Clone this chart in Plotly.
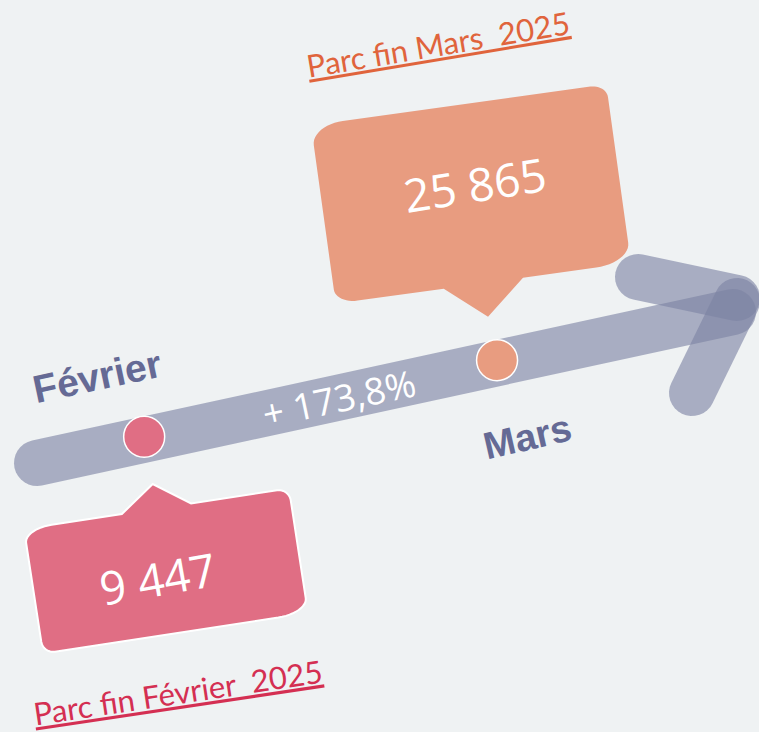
import math
import plotly.graph_objects as go

# ---------------- data ----------------
months = ["Février", "Mars"]
parc = [9447, 25865]
period_labels = ["Parc fin Février  2025", "Parc fin Mars  2025"]
month_colors = ["#E06E84", "#E89C80"]
label_colors = ["#D42F52", "#E0643C"]

# ---------------- style / layout ----------------
W, H = 759, 732
BG = "#EFF2F3"
ARROW = "rgba(125,130,163,0.62)"
SLATE = "#656A95"


def fmt(v):
    return f"{v:,}".replace(",", " ")


growth = (parc[1] - parc[0]) / parc[0] * 100
growth_txt = "+ " + f"{growth:.1f}".replace(".", ",") + "%"


def arc(cx, cy, rx, ry, a0, a1, n=12):
    out = []
    for i in range(n + 1):
        a = math.radians(a0 + (a1 - a0) * i / n)
        out.append((cx + rx * math.cos(a), cy + ry * math.sin(a)))
    return out


def place(pts, cx, cy, deg):
    a = math.radians(deg)
    c, s = math.cos(a), math.sin(a)
    return [(cx + x * c - y * s, cy + x * s + y * c) for x, y in pts]


def to_path(pts):
    return "M " + " L ".join(f"{x:.2f},{y:.2f}" for x, y in pts) + " Z"


def callout(w, h, radii, side, pb, ptip):
    hw, hh = w / 2, h / 2
    (tlx, tly), (trx, tr_y), (brx, bry), (blx, bly) = radii
    pts = []
    pts += arc(-hw + tlx, -hh + tly, tlx, tly, 180, 270)
    if side == "top":
        pts += [(-pb, -hh), (0, -hh - ptip), (pb, -hh)]
    pts += arc(hw - trx, -hh + tr_y, trx, tr_y, 270, 360)
    pts += arc(hw - brx, hh - bry, brx, bry, 0, 90)
    if side == "bottom":
        pts += [(pb, hh), (0, hh + ptip), (-pb, hh)]
    pts += arc(-hw + blx, hh - bly, blx, bly, 90, 180)
    return pts


def capsule(p1, p2, r, n=16):
    dx, dy = p2[0] - p1[0], p2[1] - p1[1]
    L = math.hypot(dx, dy)
    nx, ny = -dy / L, dx / L
    an = math.degrees(math.atan2(ny, nx))
    pts = arc(p2[0], p2[1], r, r, an, an - 180, n)
    pts += arc(p1[0], p1[1], r, r, an - 180, an - 360, n)
    return pts


shapes = []
# arrow shaft + head
shaft = ((37, 463), (733, 312))
for a, b in [shaft, ((638, 277), (737, 298)), ((692, 393), (737, 301))]:
    shapes.append(dict(type="path", path=to_path(capsule(a, b, 23)),
                       fillcolor=ARROW, line=dict(width=0), layer="below"))

# callouts
pink = place(callout(268, 126, [(28, 14), (12, 12), (30, 15), (12, 12)], "top", 35, 25),
             166, 571, -8.7)
orange = place(callout(298, 180, [(32, 20), (16, 13), (35, 20), (22, 14)], "bottom", 40, 34),
               471, 194, -7.9)
shapes.append(dict(type="path", path=to_path(pink), fillcolor=month_colors[0],
                   line=dict(color="white", width=2)))
shapes.append(dict(type="path", path=to_path(orange), fillcolor=month_colors[1],
                   line=dict(width=0)))

fig = go.Figure()

# dots along the arrow
dot_t = [0.154, 0.661]
dx = [shaft[0][0] + t * (shaft[1][0] - shaft[0][0]) for t in dot_t]
dy = [shaft[0][1] + t * (shaft[1][1] - shaft[0][1]) - 3 for t in dot_t]
fig.add_trace(go.Scatter(x=dx, y=dy, mode="markers", hoverinfo="skip",
                         marker=dict(size=41, color=month_colors,
                                     line=dict(color="white", width=1.5))))

annotations = [
    dict(x=157, y=578, text=fmt(parc[0]), textangle=-10,
         font=dict(family="Open Sans", size=46, color="white")),
    dict(x=474, y=184, text=fmt(parc[1]), textangle=-9,
         font=dict(family="Open Sans", size=46, color="white")),
    dict(x=339, y=397, text=growth_txt, textangle=-12,
         font=dict(family="Open Sans", size=37, color="white")),
    dict(x=97, y=376, text=months[0], textangle=-12,
         font=dict(family="Liberation Sans", size=39, color=SLATE, weight="bold")),
    dict(x=527, y=437, text=months[1], textangle=-13,
         font=dict(family="Liberation Sans", size=38, color=SLATE, weight="bold")),
    dict(x=178, y=692, text=f"<u>{period_labels[0]}</u>", textangle=-8.5,
         font=dict(family="Lato", size=31, color=label_colors[0])),
    dict(x=438, y=44, text=f"<u>{period_labels[1]}</u>", textangle=-9.5,
         font=dict(family="Lato", size=31, color=label_colors[1])),
]
for a in annotations:
    a.update(xref="x", yref="y", showarrow=False, xanchor="center", yanchor="middle")

fig.update_layout(
    width=W, height=H, autosize=False,
    margin=dict(l=0, r=0, t=0, b=0),
    paper_bgcolor=BG, plot_bgcolor=BG,
    showlegend=False,
    shapes=shapes, annotations=annotations,
    xaxis=dict(range=[0, W], visible=False, fixedrange=True),
    yaxis=dict(range=[H, 0], visible=False, fixedrange=True),
)
fig.write_html("out.html", config={"displayModeBar": False},
               post_script="document.body.style.margin='0';"
                           "document.body.style.background='" + BG + "';")
